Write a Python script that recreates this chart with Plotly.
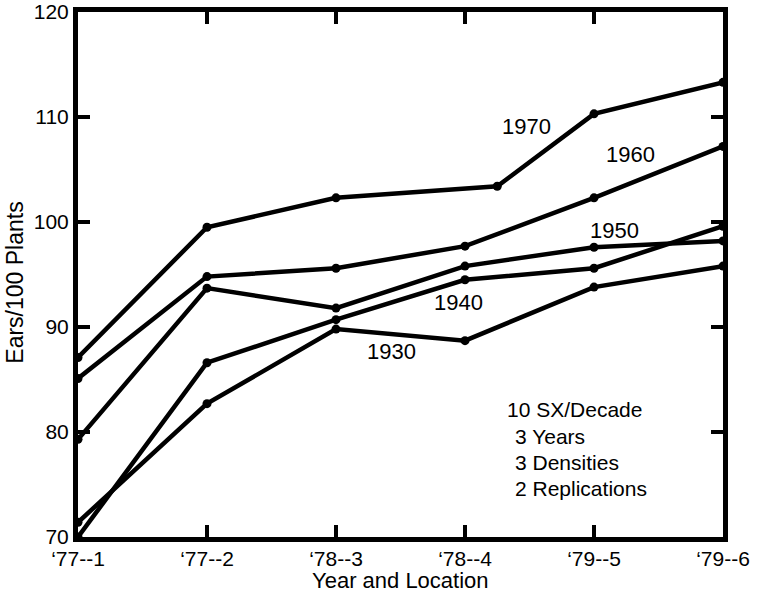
import plotly.graph_objects as go

# Data
tick_labels = ["\u201877--1", "\u201877--2", "\u201878--3", "\u201878--4", "\u201879--5", "\u201879--6"]
x_std = [0, 1, 2, 3, 4, 5]
x_1970 = [0, 1, 2, 3.25, 4, 5]

y_1970 = [87.1, 99.5, 102.3, 103.4, 110.3, 113.3]
y_1960 = [85.1, 94.8, 95.6, 97.7, 102.3, 107.2]
y_1950 = [79.3, 93.7, 91.8, 95.8, 97.6, 98.2]
y_1940 = [70.0, 86.6, 90.7, 94.5, 95.6, 99.6]
y_1930 = [71.4, 82.7, 89.8, 88.7, 93.8, 95.8]

series = [
    ("1970", x_1970, y_1970),
    ("1960", x_std, y_1960),
    ("1950", x_std, y_1950),
    ("1940", x_std, y_1940),
    ("1930", x_std, y_1930),
]

# label positions (x in category units, y in data units)
label_pos = {
    "1970": (3.48, 109.05),
    "1960": (4.28, 106.4),
    "1950": (4.16, 99.2),
    "1940": (2.95, 92.3),
    "1930": (2.43, 87.7),
}

note_lines = ["10 SX/Decade", "3 Years", "3 Densities", "2 Replications"]
note_x = [3.31, 3.37, 3.37, 3.37]
note_y = [82.1, 79.6, 77.1, 74.65]

FONT = "Liberation Sans, Arial, Helvetica, sans-serif"

fig = go.Figure()
for name, xs, ys in series:
    fig.add_trace(go.Scatter(
        x=xs, y=ys, mode="lines+markers", name=name,
        line=dict(color="black", width=4.5),
        marker=dict(color="black", size=9),
        cliponaxis=False, showlegend=False,
    ))

for name, (lx, ly) in label_pos.items():
    fig.add_annotation(x=lx, y=ly, text=name, showarrow=False,
                       font=dict(size=22, color="black", family=FONT))

for t, nx, ny in zip(note_lines, note_x, note_y):
    fig.add_annotation(x=nx, y=ny, text=t, showarrow=False, xanchor="left",
                       font=dict(size=21, color="black", family=FONT))

# axis titles
fig.add_annotation(xref="paper", yref="paper", x=0.5, y=-0.0838, text="Year and Location",
                   xanchor="center", yanchor="middle",
                   showarrow=False, font=dict(size=22, color="black", family=FONT))
fig.add_annotation(xref="paper", yref="paper", x=-0.098, y=0.484, text="Ears/100 Plants",
                   xanchor="center", yanchor="middle",
                   textangle=-90, showarrow=False, font=dict(size=23, color="black", family=FONT))

axis_common = dict(
    showline=True, linewidth=5, linecolor="black", mirror="ticks",
    ticks="inside", ticklen=12, tickwidth=4, tickcolor="black",
    showgrid=False, zeroline=False, automargin=False,
    ticklabeloverflow="allow",
)

fig.update_xaxes(range=[0, 5], tickvals=x_std, ticktext=tick_labels,
                 tickfont=dict(size=21, color="black", family=FONT),
                 ticklabelstandoff=-1, **axis_common)
fig.update_yaxes(range=[70, 120], tickvals=[70, 80, 90, 100, 110, 120],
                 tickfont=dict(size=21, color="black", family=FONT), **axis_common)

fig.update_layout(
    width=758, height=592,
    margin=dict(l=78, r=35, t=12, b=55),
    paper_bgcolor="white", plot_bgcolor="white",
    font=dict(family=FONT, color="black"),
)

fig.write_html("out.html")
